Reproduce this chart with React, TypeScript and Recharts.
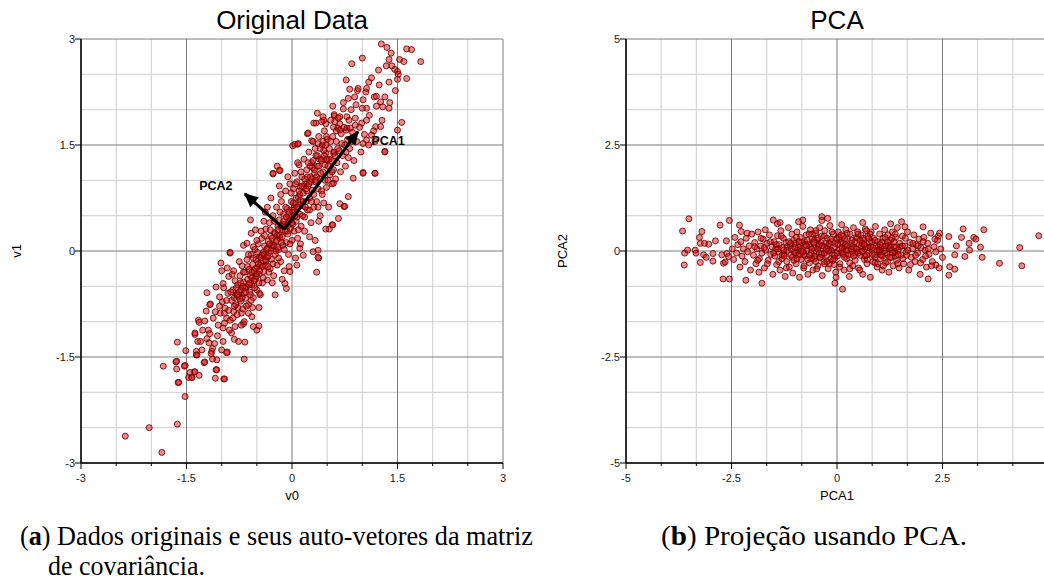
import React from "react";
import { CartesianGrid, Scatter, ScatterChart, XAxis, YAxis } from "recharts";

// original data (v0, v1)
const ORIG_POINTS: [number, number][] = [
  [-2.37, -2.62], [-2.03, -2.5], [-1.85, -2.85], [-1.63, -2.45], [-1.52, -2.06], [-1.83, -1.63], [-1.62, -1.86],
  [-1.65, -1.57], [-1.64, -1.67], [-1.63, -1.29], [-1.51, -1.41], [-1.52, -1.62], [-1.47, -1.79], [-1.42, -1.79],
  [-1.39, -1.71], [-1.32, -1.76], [-1.38, -1.18], [-1.33, -0.98], [-1.32, -1.01], [-1.36, -1.42], [-1.35, -1.47],
  [-1.25, -1.58], [-1.08, -1.68], [-1.09, -1.8], [-0.97, -1.81], [-0.92, -1.43], [-0.68, -1.53], [-0.47, -1.06],
  [-0.88, -0.03], [-0.92, -0.24], [-0.9, -0.36], [-1.21, -0.59], [-1.16, -0.75], [0.35, -0.3], [0.38, -0.1],
  [0.57, 0.37], [0.53, 0.31], [0.74, 0.63], [-0.1, -0.46], [-0.08, -0.53],
  [-1.08, -0.51], [-0.98, -0.46], [-1.03, -0.65], [-1.17, -0.76], [-1.24, -0.99], [-1.19, -1.12], [-1.17, -1.17],
  [-1.21, -1.24], [-1.38, -1.16], [-1.34, -1.28], [-1.3, -1.28], [-1.28, -1.4], [-1.14, -1.42], [-1.13, -1.38],
  [-1.15, -1.45], [-1.1, -1.31], [-0.98, -1.28], [-0.93, -1.44], [-1.07, -1.54], [-1.13, -1.53], [-1.24, -1.57],
  [-1.36, -1.47], [-1.64, -1.56], [-1.53, -1.63], [-1.38, -1.71], [-1.45, -1.72], [-1.43, -1.79], [-1.61, -1.86],
  [-1.07, -1.68], [-0.96, -1.81], [-0.82, -1.25], [-0.76, -1.28], [-0.67, -1.29], [-0.98, -1.09], [-0.81, -1.07],
  [-0.86, -1.16], [-0.72, -0.88], [-0.62, -0.88], [-0.57, -0.93], [-0.96, -1.02], [-0.93, -0.95], [-1.02, -0.88],
  [-1.09, -0.86], [-0.69, -1.03], [-0.55, -1.07], [-0.5, -1.12],
  [1.27, 2.93], [1.35, 2.88], [1.41, 2.8], [1.38, 2.71], [1.34, 2.62], [1.42, 2.62], [1.46, 2.57], [1.5, 2.54],
  [1.51, 2.5], [1.5, 2.43], [1.63, 2.86], [1.7, 2.85], [1.53, 2.71], [1.59, 2.68], [1.83, 2.68], [1.63, 2.44],
  [1.47, 2.27], [1.38, 2.39], [1.23, 2.56], [1.0, 2.73], [0.85, 2.65], [0.77, 2.42], [0.93, 2.27], [1.09, 2.39],
  [0.82, 2.29], [1.05, 2.25], [0.8, 2.16], [0.89, 2.18], [0.91, 2.07], [1.01, 2.14], [1.06, 2.02], [1.17, 2.18],
  [1.2, 2.19], [1.26, 2.11], [1.32, 2.18], [1.29, 2.04], [1.39, 2.1], [1.38, 2.02], [1.5, 1.71], [1.56, 1.82],
  [1.32, 1.41], [1.18, 1.1], [1.01, 1.11], [0.36, 1.95], [0.48, 1.8], [0.34, 1.81], [0.45, 1.85], [0.58, 2.05],
  [0.6, 1.91], [0.73, 2.01], [0.65, 1.74], [0.78, 1.74], [0.22, 1.66], [0.08, 1.51], [0.01, 1.49], [-0.21, 1.2],
  [-0.17, 1.14], [-0.27, 1.09],
  [0.6, 1.93], [0.68, 1.9], [0.61, 1.83], [0.31, 1.81], [0.42, 1.83], [0.23, 1.67], [0.28, 1.56], [0.37, 1.52],
  [0.04, 1.51], [0.09, 1.52], [-0.27, 1.1], [-0.18, 1.14], [0.68, 1.71], [0.77, 1.71], [0.83, 1.74], [0.9, 1.78],
  [0.99, 1.81], [1.06, 1.85], [1.19, 1.76], [1.26, 1.76], [1.13, 1.64], [1.06, 1.57], [1.18, 1.55], [1.01, 1.52],
  [1.09, 1.5], [1.32, 1.4], [1.18, 1.1], [1.01, 1.1], [0.87, 1.03], [0.8, 0.77], [0.68, 0.67], [0.59, 0.96],
  [0.49, 1.29], [0.59, 1.38],
  [-0.59, 0.44], [-0.88, -0.02], [-1.01, -0.17], [-1.0, -0.28], [0.37, -0.09], [0.58, 0.37], [0.48, 0.31],
  [0.66, 0.46], [0.75, 0.63], [-0.69, 0.08], [-0.64, 0.11], [-0.55, 0.06], [0.11, 0.04], [0.16, -0.06],
  [0.07, -0.2], [-0.03, -0.29], [0.3, -0.01], [0.37, 0.01],
  [-1.27, -1.12], [-1.22, -0.85], [-1.18, -1.3], [-1.12, -0.95], [-1.06, -1.2], [-1.03, -0.78], [-1.0, -1.4], [-1.05, -1.05],
  [-0.99, -0.72], [-0.95, -0.81], [-0.91, -0.6], [-0.88, -0.98], [-0.86, -0.7], [-0.84, -0.55], [-0.83, -0.86],
  [-0.81, -0.42], [-0.8, -0.76], [-0.79, -0.63], [-0.97, -0.52], [-0.89, -1.12], [-0.85, -0.33],
  [-0.78, -0.9], [-0.77, -0.48], [-0.76, -0.62], [-0.74, -0.35], [-0.73, -0.71], [-0.72, -0.55], [-0.71, -0.21],
  [-0.7, -0.82], [-0.69, -0.44], [-0.68, -0.6], [-0.67, -0.3], [-0.66, -0.67], [-0.65, -0.51], [-0.64, -0.12],
  [-0.63, -0.4], [-0.62, -0.76], [-0.61, -0.26], [-0.6, -0.58], [-0.75, -0.15], [-0.68, -1.0],
  [-0.59, -0.35], [-0.58, -0.05], [-0.57, -0.48], [-0.56, -0.19], [-0.55, -0.66], [-0.54, -0.28], [-0.53, 0.02],
  [-0.52, -0.4], [-0.51, -0.12], [-0.5, -0.55], [-0.49, -0.23], [-0.48, 0.1], [-0.47, -0.33], [-0.46, -0.08],
  [-0.45, -0.62], [-0.44, -0.17], [-0.43, 0.18], [-0.42, -0.45], [-0.41, -0.02], [-0.4, -0.29], [-0.58, 0.25],
  [-0.52, 0.3], [-0.47, -0.8], [-0.44, 0.28],
  [-0.39, 0.07], [-0.38, -0.2], [-0.37, 0.31], [-0.36, -0.09], [-0.35, -0.41], [-0.34, 0.14], [-0.33, -0.02],
  [-0.32, 0.4], [-0.31, -0.25], [-0.3, 0.21], [-0.29, -0.12], [-0.28, 0.05], [-0.27, 0.5], [-0.26, -0.35],
  [-0.25, 0.26], [-0.24, -0.05], [-0.23, 0.13], [-0.22, 0.62], [-0.21, -0.2], [-0.2, 0.35], [-0.38, 0.55],
  [-0.3, 0.75], [-0.24, -0.62], [-0.35, 0.62],
  [-0.19, 0.02], [-0.18, 0.44], [-0.17, 0.18], [-0.16, -0.15], [-0.15, 0.7], [-0.14, 0.3], [-0.13, 0.08],
  [-0.12, 0.52], [-0.11, -0.28], [-0.1, 0.38], [-0.09, 0.85], [-0.08, 0.12], [-0.07, 0.6], [-0.06, 0.24],
  [-0.05, -0.05], [-0.04, 0.46], [-0.03, 0.95], [-0.02, 0.32], [-0.01, 0.7], [0.0, 0.15], [-0.18, 0.92],
  [-0.06, 1.05], [-0.14, -0.4],
  [0.01, 0.55], [0.02, 0.88], [0.03, 0.28], [0.04, 1.1], [0.05, 0.66], [0.06, 0.42], [0.07, 0.98], [0.08, 0.18],
  [0.09, 0.76], [0.1, 1.22], [0.11, 0.52], [0.12, 0.9], [0.13, 0.35], [0.14, 1.05], [0.15, 0.64], [0.16, 0.82],
  [0.17, 1.3], [0.18, 0.48], [0.19, 0.95], [0.2, 0.7], [0.05, -0.1], [0.12, 0.1],
  [0.21, 1.15], [0.22, 0.58], [0.23, 0.92], [0.24, 1.4], [0.25, 0.75], [0.26, 1.05], [0.27, 0.4], [0.28, 1.25],
  [0.29, 0.86], [0.3, 1.55], [0.31, 0.62], [0.32, 1.1], [0.33, 0.98], [0.34, 1.35], [0.35, 0.7], [0.36, 1.2],
  [0.37, 0.88], [0.38, 1.62], [0.39, 1.02], [0.4, 0.5], [0.25, 0.2], [0.33, 0.15],
  [0.41, 1.3], [0.42, 0.85], [0.43, 1.5], [0.44, 1.12], [0.45, 0.68], [0.46, 1.7], [0.47, 1.0], [0.48, 1.38],
  [0.49, 0.9], [0.5, 1.58], [0.51, 1.2], [0.52, 0.62], [0.53, 1.45], [0.54, 1.08], [0.55, 1.85], [0.56, 1.28],
  [0.57, 0.95], [0.58, 1.62], [0.59, 1.15], [0.6, 1.4],
  [0.62, 1.02], [0.63, 1.55], [0.64, 1.25], [0.66, 1.88], [0.67, 1.42], [0.69, 1.12], [0.7, 1.66], [0.72, 1.35],
  [0.73, 2.1], [0.75, 1.5], [0.76, 1.2], [0.78, 1.9], [0.79, 1.58], [0.8, 1.32],
  [0.82, 1.45], [0.84, 2.0], [0.86, 1.68], [0.88, 1.28], [0.9, 1.88], [0.92, 1.55], [0.94, 2.3], [0.96, 1.75],
  [0.98, 1.4], [1.0, 2.02], [1.03, 1.65], [1.06, 2.3], [1.1, 1.92], [1.13, 2.45], [1.16, 1.7], [1.2, 2.05],
  [1.24, 2.35], [1.28, 1.85],
  [-0.96, -0.88], [-0.93, -0.7], [-0.9, -0.84], [-0.87, -0.58], [-0.84, -0.95], [-0.82, -0.66], [-0.79, -0.52],
  [-0.77, -0.8], [-0.75, -0.58], [-0.73, -0.45], [-0.71, -0.66], [-0.69, -0.3], [-0.67, -0.52], [-0.65, -0.78],
  [-0.63, -0.22], [-0.61, -0.48], [-0.59, -0.62], [-0.57, -0.3], [-0.55, -0.1], [-0.53, -0.52], [-0.51, -0.36],
  [-0.49, -0.02], [-0.47, -0.45], [-0.45, -0.2], [-0.43, -0.06], [-0.41, -0.38], [-0.39, 0.22], [-0.37, -0.14],
  [-0.35, 0.04], [-0.33, -0.3], [-0.31, 0.3], [-0.29, 0.08], [-0.27, -0.18], [-0.25, 0.42], [-0.23, 0.0],
  [-0.21, 0.22], [-0.19, -0.1], [-0.17, 0.55], [-0.15, 0.12], [-0.13, 0.38], [-0.11, 0.02], [-0.09, 0.62],
  [-0.07, 0.28], [-0.05, 0.5], [-0.03, 0.1], [-0.01, 0.82], [0.01, 0.38], [0.03, 0.62], [0.05, 0.95],
  [0.07, 0.48], [0.09, 0.3], [0.11, 0.8], [0.13, 1.12], [0.15, 0.5], [0.17, 0.92], [0.19, 0.62], [0.21, 0.85],
  [0.23, 1.25], [0.25, 0.58], [0.27, 0.98], [0.29, 1.18], [0.31, 0.8], [0.33, 1.45], [0.35, 1.05], [0.37, 0.62],
  [0.39, 1.3], [0.41, 1.1], [0.43, 0.8], [0.45, 1.42], [0.47, 1.22], [0.49, 1.62], [0.51, 1.0], [0.53, 1.3],
  [0.55, 1.55], [0.57, 1.12], [0.59, 1.75], [0.61, 1.35], [0.63, 1.7], [0.65, 1.45], [0.68, 1.8], [0.71, 1.52],
  [0.74, 1.75], [0.77, 1.4], [0.81, 1.85], [0.85, 1.55], [-0.62, -0.05], [-0.5, 0.15], [-0.4, 0.42],
  [-0.28, -0.45], [-0.16, 0.8], [-0.04, -0.22], [0.08, 1.25], [0.18, 0.28], [0.28, 0.7], [0.38, 0.42],
  [-0.83, -0.28], [-0.72, -1.05], [-0.56, -0.8], [0.44, 1.9], [-0.2, 0.05], [-0.34, -0.22], [-0.46, -0.6],
  [-0.58, -0.7], [0.0, 0.58], [0.12, 0.66],
  [-0.6, -0.45], [-0.57, -0.38], [-0.54, -0.42], [-0.52, -0.25], [-0.5, -0.32], [-0.48, -0.18], [-0.46, -0.28],
  [-0.44, -0.1], [-0.42, -0.22], [-0.4, -0.05], [-0.38, -0.12], [-0.36, 0.02], [-0.34, -0.08], [-0.32, 0.1],
  [-0.3, 0.0], [-0.28, 0.18], [-0.26, 0.08], [-0.24, 0.25], [-0.22, 0.15], [-0.2, 0.3], [-0.18, 0.22],
  [-0.16, 0.36], [-0.14, 0.2], [-0.12, 0.42], [-0.1, 0.28], [-0.08, 0.48], [-0.06, 0.36], [-0.04, 0.55],
  [-0.02, 0.44], [0.0, 0.4], [0.02, 0.68], [0.04, 0.5], [0.06, 0.75], [0.08, 0.62], [0.1, 0.85], [0.12, 0.72],
  [0.14, 0.92], [0.16, 0.7], [0.18, 1.02], [0.2, 0.88], [0.22, 1.05], [0.24, 0.95], [0.26, 1.2], [0.28, 1.02],
  [0.3, 1.28], [0.32, 1.15], [0.34, 1.0], [0.36, 1.35], [0.38, 1.2], [0.4, 1.45], [0.42, 1.28], [0.44, 1.55],
  [0.46, 1.35], [0.48, 1.5], [0.5, 1.3], [-0.66, -0.58], [-0.7, -0.5], [-0.74, -0.68], [-0.78, -0.62],
  [-0.82, -0.78],
];

// projected data (PCA1, PCA2)
const PCA_POINTS: [number, number][] = [
  [-3.66, 0.47], [-3.51, 0.76], [-3.62, -0.33], [-3.61, -0.05], [-3.54, 0.02], [-3.36, 0.02], [-3.34, -0.05],
  [-3.24, -0.27], [-3.26, 0.32], [-3.2, 0.46], [-3.24, 0.18], [-3.14, 0.18], [-3.04, 0.16], [-3.16, -0.09],
  [-3.1, -0.15], [-2.94, -0.06], [-2.94, -0.24], [-2.88, 0.24], [-2.77, 0.61], [-2.7, -0.66], [-2.55, -0.66],
  [-2.55, 0.72], [-2.69, -0.29], [-2.65, -0.26], [-2.61, -0.06], [-2.57, -0.13], [-2.73, -0.09], [-2.62, 0.24],
  [-2.31, 0.61], [-2.27, 0.46], [-2.13, 0.42], [-2.16, -0.69], [-1.78, -0.76], [-1.51, 0.73], [-1.41, 0.64],
  [-1.35, 0.67], [-0.91, 0.69], [-0.81, 0.73], [-0.36, 0.81], [-0.36, 0.72], [-0.22, 0.77], [-0.05, -0.76],
  [-0.02, -0.62], [0.13, -0.9], [0.61, 0.67], [1.27, 0.64], [1.53, 0.69], [1.61, 0.57], [2.04, 0.57],
  [2.16, -0.66], [2.34, -0.33], [2.43, 0.42], [2.4, 0.35], [2.65, 0.34], [2.67, -0.37], [2.65, -0.57],
  [2.79, -0.43], [2.99, 0.52], [2.95, 0.32], [3.13, 0.18], [3.24, 0.32], [3.29, 0.28], [3.4, 0.09], [3.48, 0.5],
  [3.44, -0.15], [3.14, 0.02], [3.03, -0.13], [2.83, 0.12], [2.79, -0.09], [3.85, -0.29], [4.33, 0.08],
  [4.38, -0.35], [4.78, 0.36],
  [-2.48, 0.05], [-2.45, -0.2], [-2.42, 0.32], [-2.38, -0.05], [-2.35, 0.15], [-2.3, -0.38], [-2.28, 0.22],
  [-2.25, -0.12], [-2.22, 0.05], [-2.18, -0.25], [-2.15, 0.3], [-2.12, -0.02], [-2.08, 0.12], [-2.05, -0.45],
  [-2.02, 0.4],
  [-1.98, -0.1], [-1.95, 0.2], [-1.92, -0.3], [-1.9, 0.05], [-1.87, 0.45], [-1.84, -0.18], [-1.81, 0.12],
  [-1.78, -0.05], [-1.75, 0.28], [-1.72, -0.4], [-1.69, 0.02], [-1.66, 0.18], [-1.63, -0.22], [-1.6, 0.38],
  [-1.57, -0.08], [-1.54, 0.1], [-1.52, -0.55], [-1.85, -0.5], [-1.7, 0.5],
  [-1.49, 0.22], [-1.47, -0.12], [-1.45, 0.05], [-1.43, -0.32], [-1.41, 0.36], [-1.39, -0.02], [-1.37, 0.15],
  [-1.35, -0.45], [-1.33, 0.48], [-1.31, -0.18], [-1.29, 0.08], [-1.27, 0.3], [-1.25, -0.08], [-1.23, -0.6],
  [-1.21, 0.2], [-1.19, -0.25], [-1.17, 0.02], [-1.15, 0.55], [-1.13, -0.38], [-1.11, 0.12], [-1.09, -0.1],
  [-1.07, 0.4], [-1.05, -0.52], [-1.03, 0.25], [-1.01, -0.03],
  [-0.99, 0.18], [-0.97, -0.3], [-0.95, 0.45], [-0.93, -0.08], [-0.91, 0.1], [-0.89, -0.62], [-0.87, 0.32],
  [-0.85, -0.2], [-0.83, 0.05], [-0.81, 0.58], [-0.79, -0.4], [-0.77, 0.22], [-0.75, -0.12], [-0.73, 0.38],
  [-0.71, 0.0], [-0.69, -0.55], [-0.67, 0.15], [-0.65, -0.28], [-0.63, 0.5], [-0.61, -0.05], [-0.59, 0.28],
  [-0.57, -0.45], [-0.55, 0.08], [-0.53, -0.18], [-0.51, 0.42],
  [-0.49, -0.02], [-0.47, 0.25], [-0.45, -0.35], [-0.43, 0.12], [-0.41, 0.55], [-0.39, -0.15], [-0.37, 0.35],
  [-0.35, -0.58], [-0.33, 0.05], [-0.31, -0.25], [-0.29, 0.48], [-0.27, 0.18], [-0.25, -0.1], [-0.23, 0.3],
  [-0.21, -0.42], [-0.19, 0.02], [-0.17, 0.6], [-0.15, -0.2], [-0.13, 0.22], [-0.11, -0.05], [-0.09, 0.4],
  [-0.07, -0.32], [-0.05, 0.1], [-0.03, -0.5], [-0.01, 0.28],
  [0.01, -0.12], [0.03, 0.45], [0.05, 0.05], [0.07, -0.3], [0.09, 0.22], [0.11, 0.62], [0.13, -0.05],
  [0.15, 0.35], [0.17, -0.45], [0.19, 0.12], [0.21, 0.5], [0.23, -0.18], [0.25, 0.28], [0.27, 0.02],
  [0.29, -0.6], [0.31, 0.4], [0.33, -0.08], [0.35, 0.18], [0.37, -0.35], [0.39, 0.55], [0.41, 0.08],
  [0.43, -0.22], [0.45, 0.32], [0.47, -0.02], [0.49, 0.45],
  [0.51, -0.4], [0.53, 0.15], [0.55, -0.1], [0.57, 0.38], [0.59, 0.0], [0.61, -0.55], [0.63, 0.25],
  [0.65, -0.2], [0.67, 0.52], [0.69, 0.1], [0.71, -0.3], [0.73, 0.35], [0.75, -0.05], [0.77, 0.2],
  [0.79, -0.62], [0.81, 0.45], [0.83, 0.02], [0.85, -0.25], [0.87, 0.3], [0.89, -0.1], [0.91, 0.58],
  [0.93, 0.12], [0.95, -0.38], [0.97, 0.22], [0.99, -0.02],
  [1.01, 0.4], [1.03, -0.18], [1.05, 0.08], [1.07, -0.45], [1.09, 0.3], [1.11, 0.0], [1.13, 0.5],
  [1.15, -0.28], [1.17, 0.15], [1.19, -0.08], [1.21, 0.38], [1.23, -0.5], [1.25, 0.05], [1.27, 0.25],
  [1.29, -0.15], [1.31, 0.45], [1.33, -0.35], [1.35, 0.1], [1.37, -0.02], [1.39, 0.32], [1.41, -0.22],
  [1.43, 0.55], [1.45, 0.02], [1.47, -0.4], [1.49, 0.18],
  [1.52, -0.1], [1.55, 0.35], [1.58, -0.3], [1.61, 0.12], [1.64, -0.02], [1.67, 0.45], [1.7, -0.45],
  [1.73, 0.2], [1.76, -0.15], [1.79, 0.05], [1.82, 0.38], [1.85, -0.25], [1.88, 0.15], [1.91, -0.05],
  [1.94, 0.28], [1.97, -0.55], [1.99, 0.08],
  [2.03, -0.2], [2.06, 0.32], [2.09, 0.02], [2.12, -0.38], [2.15, 0.18], [2.18, -0.08], [2.22, 0.42],
  [2.26, -0.25], [2.3, 0.1], [2.34, -0.02], [2.38, 0.25], [2.42, -0.4], [2.46, 0.05], [2.5, -0.15],
  [-1.18, 0.1], [-1.06, -0.15], [-0.94, 0.02], [-0.86, 0.12], [-0.78, -0.08], [-0.7, 0.25], [-0.62, 0.1],
  [-0.54, -0.12], [-0.46, 0.05], [-0.38, 0.2], [-0.3, -0.05], [-0.22, 0.12], [-0.14, 0.02], [-0.06, -0.18],
  [0.02, 0.15], [0.1, -0.02], [0.18, 0.28], [0.26, -0.1], [0.34, 0.05], [0.42, 0.22], [0.5, -0.05],
  [0.58, 0.12], [0.66, -0.12], [0.74, 0.08], [0.82, 0.22], [0.9, -0.15], [0.98, 0.1], [1.06, 0.2],
  [1.14, -0.05], [1.22, 0.12], [1.3, 0.02], [1.38, -0.12], [-0.98, -0.05], [-0.58, 0.4], [-0.18, -0.3],
  [0.22, 0.02], [0.62, 0.3], [1.02, -0.02], [-0.42, -0.05], [0.14, 0.18],
  [-1.95, 0.1], [-1.88, -0.22], [-1.8, 0.3], [-1.72, 0.08], [-1.65, -0.3], [-1.58, 0.22], [-1.5, -0.05],
  [-1.44, 0.15], [-1.38, -0.25], [-1.32, 0.35], [-1.26, 0.02], [-1.2, -0.4], [-1.14, 0.22], [-1.08, 0.05],
  [-1.02, -0.22], [-0.96, 0.32], [-0.9, -0.1], [-0.84, 0.2], [-0.78, -0.35], [-0.72, 0.12], [-0.66, 0.4],
  [-0.6, -0.18], [-0.54, 0.25], [-0.48, -0.42], [-0.42, 0.15], [-0.36, -0.08], [-0.3, 0.35], [-0.24, -0.25],
  [-0.18, 0.18], [-0.12, 0.45], [-0.06, -0.1], [0.0, 0.28], [0.06, -0.38], [0.12, 0.08], [0.18, -0.15],
  [0.24, 0.42], [0.3, -0.28], [0.36, 0.1], [0.42, -0.05], [0.48, 0.3], [0.54, -0.45], [0.6, 0.18],
  [0.66, 0.05], [0.72, -0.2], [0.78, 0.4], [0.84, -0.08], [0.9, 0.25], [0.96, -0.3], [1.02, 0.15],
  [1.08, -0.12], [1.14, 0.32], [1.2, -0.25], [1.26, 0.08], [1.32, -0.05], [1.38, 0.4], [1.44, -0.3],
  [1.5, 0.1], [1.56, -0.18], [1.62, 0.3], [1.68, 0.02], [1.74, -0.32], [1.8, 0.18], [1.86, -0.1],
  [1.92, 0.12], [1.98, -0.28], [2.04, 0.22], [2.1, -0.12], [2.16, 0.05], [2.24, -0.35], [2.32, 0.28],
  [-1.0, 0.08], [-0.8, -0.02], [-0.6, 0.04], [-0.4, -0.15], [-0.2, 0.0], [0.0, -0.05], [0.2, 0.15],
  [0.4, -0.12], [0.6, -0.02], [0.8, 0.1], [1.0, 0.02], [1.2, 0.2], [1.4, 0.08], [-1.3, -0.1], [-0.5, 0.48],
  [0.3, -0.42], [0.7, 0.48], [1.1, -0.35],
  [-1.4, 0.05], [-1.25, -0.12], [-1.1, 0.18], [-0.95, -0.18], [-0.85, 0.0], [-0.75, 0.15], [-0.65, -0.1],
  [-0.55, 0.2], [-0.45, 0.3], [-0.35, 0.12], [-0.25, 0.05], [-0.15, 0.28], [-0.05, 0.18], [0.05, 0.32],
  [0.15, -0.08], [0.25, 0.12], [0.35, 0.25], [0.45, 0.05], [0.55, 0.25], [0.65, 0.15], [0.75, 0.3],
  [0.85, 0.08], [0.95, 0.02], [1.05, -0.1], [1.15, 0.12], [1.25, -0.15], [1.35, 0.22], [1.45, -0.08],
  [1.55, 0.12], [1.65, -0.1], [-0.9, 0.22], [-0.7, -0.2], [-0.3, -0.3], [0.1, 0.38], [0.5, 0.4],
  [0.9, -0.28], [1.3, 0.3], [-0.1, -0.22], [-0.5, -0.25], [0.7, -0.1],
];

// eigenvectors drawn on the left panel
const ARROWS = [
  { name: "PCA1", from: [-0.11, 0.31], to: [0.94, 1.69] },
  { name: "PCA2", from: [-0.11, 0.31], to: [-0.67, 0.81] },
];
const ARROW_LABELS = [
  { text: "PCA1", x: 1.13, y: 1.57 },
  { text: "PCA2", x: -1.32, y: 0.93 },
];

const LEFT_MAJOR = [-3, -1.5, 0, 1.5, 3];
const LEFT_MINOR = [-2.5, -2, -1, -0.5, 0.5, 1, 2, 2.5];
const RIGHT_MAJOR = [-5, -2.5, 0, 2.5, 5];
const RIGHT_MINOR = [-4.1667, -3.3333, -1.6667, -0.8333, 0.8333, 1.6667, 3.3333, 4.1667];
// the right panel runs past the page edge, so its last x label is not shown
const RIGHT_X_LABELS = [-5, -2.5, 0, 2.5];

const FONT = "'Liberation Sans', Arial, Helvetica, sans-serif";
const SERIF = "'Liberation Serif', 'Times New Roman', Times, serif";
const POINT_FILL = "rgba(222, 10, 10, 0.48)";
const POINT_STROKE = "rgba(105, 0, 0, 0.85)";

const toXY = (pts: [number, number][]) => pts.map(([x, y]) => ({ x, y }));
const allTicks = (a: number[], b: number[]) => [...a, ...b].sort((p, q) => p - q);

// each arrow is a two-point series: the tail draws nothing, the tip draws the head
const arrowSeries = (a: { from: number[]; to: number[] }) => [
  { x: a.from[0], y: a.from[1], head: false },
  { x: a.to[0], y: a.to[1], head: true, dx: a.to[0] - a.from[0], dy: a.to[1] - a.from[1] },
];

const Dot = (p: any) => (
  <circle cx={p.cx} cy={p.cy} r={3} fill={POINT_FILL} stroke={POINT_STROKE} strokeWidth={1} />
);

const ArrowHead = (p: any) => {
  const d = p.payload;
  if (!d || !d.head) return <g />;
  const len = Math.hypot(d.dx, d.dy);
  const ux = d.dx / len;
  const uy = -d.dy / len;
  const head = 13;
  const half = 6.5;
  const bx = p.cx - ux * head;
  const by = p.cy - uy * head;
  return (
    <g>
      <rect x={p.cx - 3} y={p.cy - 3} width={0} height={0} fill="none" />
      <polygon
        points={`${p.cx + ux},${p.cy + uy} ${bx - uy * half},${by + ux * half} ${bx + uy * half},${by - ux * half}`}
        fill="#000"
      />
    </g>
  );
};

const LabelMark = (p: any) => (
  <text x={p.cx} y={p.cy + 4.5} fontSize={12.5} fontWeight="bold" fontFamily={FONT} fill="#000">
    {p.payload.text}
  </text>
);

const XTick = ({ x, y, payload, majors, labels }: any) => {
  const major = majors.includes(payload.value);
  return (
    <g>
      <line x1={x} x2={x} y1={y} y2={y + (major ? 6 : 3)} stroke="#000" strokeWidth={1} />
      {labels.includes(payload.value) && (
        <text x={x} y={y + 19} textAnchor="middle" fontSize={11} fontFamily={FONT} fill="#222">
          {payload.value}
        </text>
      )}
    </g>
  );
};

const YTick = ({ x, y, payload, majors }: any) => {
  const major = majors.includes(payload.value);
  if (!major) return <g />;
  return (
    <g>
      <line x1={x - 6} x2={x} y1={y} y2={y} stroke="#000" strokeWidth={1} />
      <text x={x - 6} y={y + 4} textAnchor="end" fontSize={11} fontFamily={FONT} fill="#222">
        {payload.value}
      </text>
    </g>
  );
};

function Panel({
  data, major, minor, xLabels, arrows,
}: {
  data: { x: number; y: number }[];
  major: number[];
  minor: number[];
  xLabels: number[];
  arrows?: boolean;
}) {
  const ticks = allTicks(major, minor);
  const dom: [number, number] = [major[0], major[major.length - 1]];
  return (
    <ScatterChart width={520} height={500} margin={{ top: 39, right: 17, bottom: 7, left: 41 }}>
      <CartesianGrid horizontalValues={minor} verticalValues={minor} stroke="#d6d6d6" strokeWidth={1.2} />
      <CartesianGrid horizontalValues={major} verticalValues={major} stroke="#7c7c7c" strokeWidth={1} />
      <XAxis
        type="number"
        dataKey="x"
        domain={dom}
        ticks={ticks}
        interval={0}
        allowDataOverflow
        height={30}
        tickSize={0}
        tickMargin={0}
        axisLine={{ stroke: "#000", strokeWidth: 1.5 }}
        tick={(p: any) => <XTick {...p} majors={major} labels={xLabels} />}
      />
      <YAxis
        type="number"
        dataKey="y"
        domain={dom}
        ticks={ticks}
        interval={0}
        allowDataOverflow
        width={40}
        tickSize={0}
        tickMargin={0}
        axisLine={{ stroke: "#000", strokeWidth: 1.5 }}
        tick={(p: any) => <YTick {...p} majors={major} />}
      />
      <Scatter data={data} shape={Dot} isAnimationActive={false} />
      {arrows &&
        ARROWS.map((a) => (
          <Scatter
            key={a.name}
            data={arrowSeries(a)}
            line={{ stroke: "#000", strokeWidth: 3.2 }}
            lineType="joint"
            shape={ArrowHead}
            isAnimationActive={false}
          />
        ))}
      {arrows && <Scatter data={ARROW_LABELS} shape={LabelMark} isAnimationActive={false} />}
    </ScatterChart>
  );
}

export default function App() {
  return (
    <div
      style={{
        position: "fixed",
        left: 0,
        top: 0,
        width: 1044,
        height: 585,
        overflow: "hidden",
        background: "#fff",
      }}
    >
      <div style={{ position: "absolute", left: 0, top: 0 }}>
        <Panel data={toXY(ORIG_POINTS)} major={LEFT_MAJOR} minor={LEFT_MINOR} xLabels={LEFT_MAJOR} arrows />
      </div>
      <div style={{ position: "absolute", left: 545, top: 0 }}>
        <Panel data={toXY(PCA_POINTS)} major={RIGHT_MAJOR} minor={RIGHT_MINOR} xLabels={RIGHT_X_LABELS} />
      </div>
      <svg width={1044} height={585} style={{ position: "absolute", left: 0, top: 0, pointerEvents: "none" }}>
        <g fontFamily={FONT} fill="#000">
          <text x={292} y={29} fontSize={26} textAnchor="middle">Original Data</text>
          <text x={837} y={29} fontSize={26} textAnchor="middle">PCA</text>
          <text x={292} y={500} fontSize={13} textAnchor="middle">v0</text>
          <text x={837} y={500} fontSize={13} textAnchor="middle">PCA1</text>
          <text x={0} y={0} fontSize={13} textAnchor="middle" transform="translate(21,251) rotate(-90)">v1</text>
          <text x={0} y={0} fontSize={13} textAnchor="middle" transform="translate(567,251) rotate(-90)">PCA2</text>
        </g>
        <g fontFamily={SERIF} fill="#000" fontSize={28}>
          <text x={20} y={545} textLength={513} lengthAdjust="spacingAndGlyphs">
            (<tspan fontWeight="bold">a</tspan>) Dados originais e seus auto-vetores da matriz
          </text>
          <text x={48} y={575} textLength={157} lengthAdjust="spacingAndGlyphs">de covariância.</text>
          <text x={661} y={545} textLength={306} lengthAdjust="spacingAndGlyphs">
            (<tspan fontWeight="bold">b</tspan>) Projeção usando PCA.
          </text>
        </g>
      </svg>
    </div>
  );
}
